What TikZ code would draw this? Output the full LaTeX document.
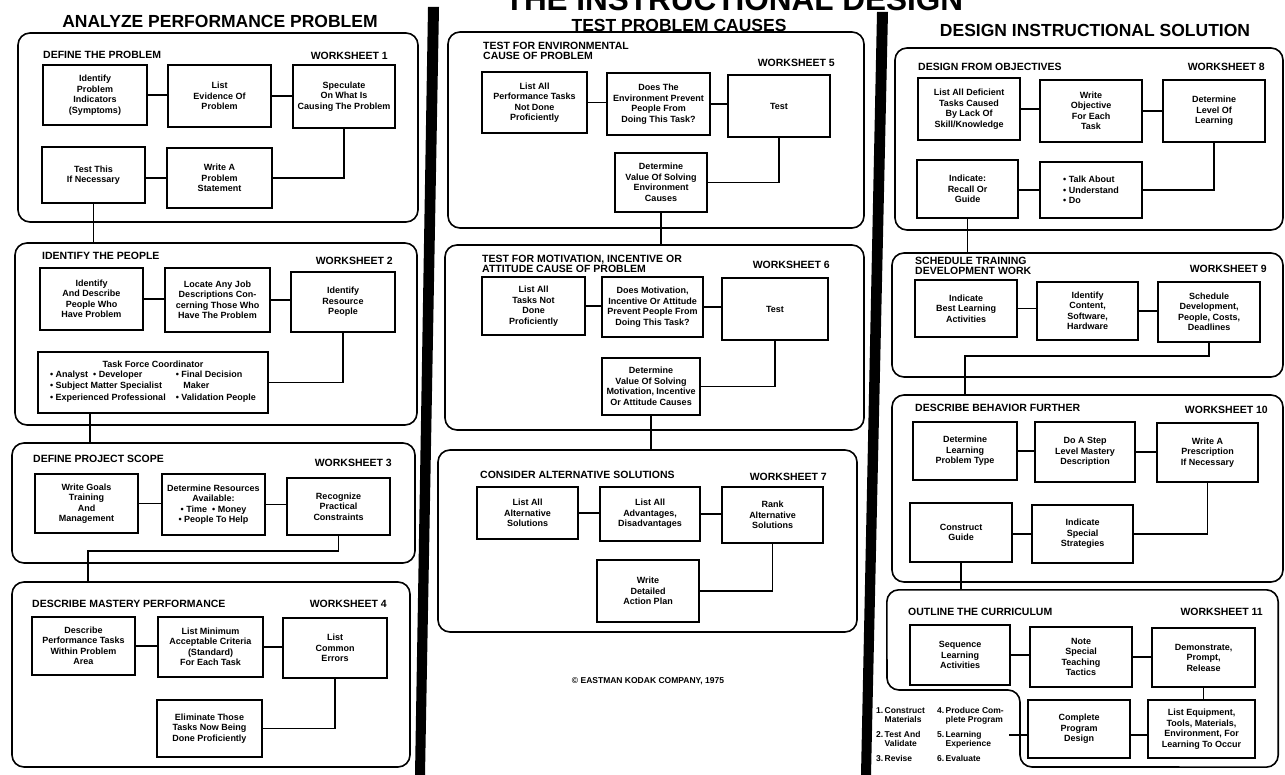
\documentclass[tikz,border=0pt]{standalone}
\usepackage{fontspec}
\setmainfont{Liberation Sans}
\usetikzlibrary{calc}

\newcommand{\stepfont}{\bfseries\fontsize{9}{10.5}\selectfont}

\tikzset{
  panel/.style={draw, line width=1.6pt, rounded corners=12pt, inner sep=0pt},
  stepbox/.style={draw, line width=1.8pt, align=center, inner sep=1pt, font=\stepfont},
  link/.style={line width=1.6pt},
  sectitle/.style={anchor=west, inner sep=0pt, align=left,
    font=\bfseries\fontsize{10.5}{10.5}\selectfont},
  sectitletwo/.style={anchor=north west, inner sep=0pt, align=left,
    font=\bfseries\fontsize{10.5}{10}\selectfont},
  sheet/.style={anchor=east, inner sep=0pt, font=\bfseries\fontsize{10.5}{11}\selectfont},
  colhead/.style={inner sep=0pt, font=\bfseries\fontsize{17.5}{18}\selectfont},
  divider/.style={fill=black},
  steplist/.style={anchor=north west, inner sep=0pt, font=\bfseries\fontsize{8.5}{9}\selectfont},
}

\begin{document}
\begin{tikzpicture}[x=1pt,y=-1pt]
\useasboundingbox (0,0) rectangle (1285,775);

% main title, running off the top edge of the sheet
\begin{scope}
  \clip (0,0) rectangle (1285,775);
  \node[anchor=base, inner sep=0pt, font=\bfseries\fontsize{31.5}{32}\selectfont] (title) at (734,11) {THE INSTRUCTIONAL DESIGN};
\end{scope}

% column dividers
\fill[divider] (428,7) -- (439,7) -- (425,775) -- (415,775) -- cycle;
\fill[divider] (877,12) -- (888,12) -- (871,775) -- (861,775) -- cycle;

% column headings
\node[colhead] (head1) at (220,21) {ANALYZE PERFORMANCE PROBLEM};
\node[colhead] (head2) at (679,25) {TEST PROBLEM CAUSES};
\node[colhead] (head3) at (1095,30) {DESIGN INSTRUCTIONAL SOLUTION};

% ---------------- column 1 ----------------
\node[panel, minimum width=400, minimum height=189] (P1) at (218,127.5) {};
\node[sectitle] (t1) at (43,55) {DEFINE THE PROBLEM};
\node[sheet] (w1) at (388,56) {WORKSHEET 1};
\node[stepbox, minimum width=104, minimum height=60] (A1) at (95,95) {Identify\\Problem\\Indicators\\(Symptoms)};
\node[stepbox, minimum width=103, minimum height=62] (A2) at (219.5,96) {List\\Evidence Of\\Problem};
\node[stepbox, minimum width=102, minimum height=63] (A3) at (344,96.5) {Speculate\\On What Is\\Causing The Problem};
\node[stepbox, minimum width=103, minimum height=56] (A4) at (93.5,175) {Test This\\If Necessary};
\node[stepbox, minimum width=105, minimum height=60] (A5) at (219.5,178) {Write A\\Problem\\Statement};
\draw[link] (A1.east) -- (A1.east -| A2.west);
\draw[link] (A2.east) -- (A2.east -| A3.west);
\draw[link] (A3.south) |- (A5.east);
\draw[link] (A5.west) -- (A5.west -| A4.east);

\node[panel, minimum width=402, minimum height=182] (P2) at (216,334) {};
\draw[link] (A4.south) -- (A4.south |- P2.north);
\node[sectitle] (t2) at (42,256) {IDENTIFY THE PEOPLE};
\node[sheet] (w2) at (393,261) {WORKSHEET 2};
\node[stepbox, minimum width=103, minimum height=62] (B1) at (91.5,299) {Identify\\And Describe\\People Who\\Have Problem};
\node[stepbox, minimum width=105, minimum height=64] (B2) at (217.5,300) {Locate Any Job\\Descriptions Con-\\cerning Those Who\\Have The Problem};
\node[stepbox, minimum width=104, minimum height=60] (B3) at (343,302) {Identify\\Resource\\People};
\node[stepbox, font=\bfseries\fontsize{9}{11.5}\selectfont, minimum width=230, minimum height=61] (B4) at (153,382.5) {Task Force Coordinator\\
  \begin{tabular}{@{}l@{\hspace{10pt}}l@{}}
  • Analyst\ \ • Developer & • Final Decision\\
  • Subject Matter Specialist & \ \ \ Maker\\
  • Experienced Professional & • Validation People
  \end{tabular}};
\draw[link] (B1.east) -- (B1.east -| B2.west);
\draw[link] (B2.east) -- (B2.east -| B3.west);
\draw[link] (B3.south) |- (B4.east);

\node[panel, minimum width=403, minimum height=120] (P3) at (213.5,503) {};
\coordinate (b4s) at ([xshift=-63pt]B4.south);
\draw[link] (b4s) -- (b4s |- P3.north);
\node[sectitle] (t3) at (33,459) {DEFINE PROJECT SCOPE};
\node[sheet] (w3) at (392,463) {WORKSHEET 3};
\node[stepbox, minimum width=103, minimum height=59] (C1) at (86.5,503.5) {Write Goals\\Training\\And\\Management};
\node[stepbox, minimum width=103, minimum height=61] (C2) at (213.5,504.5) {Determine Resources\\Available:\\• Time\ \ • Money\\• People To Help};
\node[stepbox, minimum width=103, minimum height=57] (C3) at (338.5,506.5) {Recognize\\Practical\\Constraints};
\draw[link] (C1.east) -- (C1.east -| C2.west);
\draw[link] (C2.east) -- (C2.east -| C3.west);

\node[panel, minimum width=398, minimum height=185] (P4) at (211,674.5) {};
\coordinate (c4n) at ([xshift=-123pt]P4.north);
\draw[link] (C3.south) -- ++(0,15) -| (c4n);
\node[sectitle] (t4) at (32,604) {DESCRIBE MASTERY PERFORMANCE};
\node[sheet] (w4) at (387,604) {WORKSHEET 4};
\node[stepbox, minimum width=103, minimum height=58] (D1) at (83.5,646) {Describe\\Performance Tasks\\Within Problem\\Area};
\node[stepbox, minimum width=105, minimum height=60] (D2) at (210.5,647) {List Minimum\\Acceptable Criteria\\(Standard)\\For Each Task};
\node[stepbox, minimum width=104, minimum height=60] (D3) at (335,648) {List\\Common\\Errors};
\node[stepbox, minimum width=105, minimum height=57] (D4) at (209.5,728.5) {Eliminate Those\\Tasks Now Being\\Done Proficiently};
\draw[link] (D1.east) -- (D1.east -| D2.west);
\draw[link] (D2.east) -- (D2.east -| D3.west);
\draw[link] (D3.south) |- (D4.east);

% ---------------- column 2 ----------------
\node[panel, minimum width=416, minimum height=196] (P5) at (656,130) {};
\node[sectitletwo] (t5) at (483,42) {TEST FOR ENVIRONMENTAL\\CAUSE OF PROBLEM};
\node[sheet] (w5) at (835,63) {WORKSHEET 5};
\node[stepbox, minimum width=105, minimum height=61] (E1) at (534.5,102.5) {List All\\Performance Tasks\\Not Done\\Proficiently};
\node[stepbox, minimum width=103, minimum height=62] (E2) at (658.5,104) {Does The\\Environment Prevent\\People From\\Doing This Task?};
\node[stepbox, minimum width=102, minimum height=62] (E3) at (779,106) {Test};
\node[stepbox, minimum width=92, minimum height=59] (E4) at (661,182.5) {Determine\\Value Of Solving\\Environment\\Causes};
\draw[link] (E1.east) -- (E1.east -| E2.west);
\draw[link] (E2.east) -- (E2.east -| E3.west);
\draw[link] (E3.south) |- (E4.east);

\node[panel, minimum width=419, minimum height=185] (P6) at (654.5,337.5) {};
\draw[link] (E4.south) -- (E4.south |- P6.north);
\node[sectitletwo] (t6) at (482,255) {TEST FOR MOTIVATION, INCENTIVE OR\\ATTITUDE CAUSE OF PROBLEM};
\node[sheet] (w6) at (830,265) {WORKSHEET 6};
\node[stepbox, minimum width=103, minimum height=58] (F1) at (533.5,306) {List All\\Tasks Not\\Done\\Proficiently};
\node[stepbox, minimum width=101, minimum height=60] (F2) at (652.5,307) {Does Motivation,\\Incentive Or Attitude\\Prevent People From\\Doing This Task?};
\node[stepbox, minimum width=106, minimum height=62] (F3) at (775,309) {Test};
\node[stepbox, minimum width=98, minimum height=57] (F4) at (651,386.5) {Determine\\Value Of Solving\\Motivation, Incentive\\Or Attitude Causes};
\draw[link] (F1.east) -- (F1.east -| F2.west);
\draw[link] (F2.east) -- (F2.east -| F3.west);
\draw[link] (F3.south) |- (F4.east);

\node[panel, minimum width=419, minimum height=182] (P7) at (647.5,541) {};
\draw[link] (F4.south) -- (F4.south |- P7.north);
\node[sectitle] (t7) at (480,475) {CONSIDER ALTERNATIVE SOLUTIONS};
\node[sheet] (w7) at (827,477) {WORKSHEET 7};
\node[stepbox, minimum width=101, minimum height=52] (G1) at (527.5,513) {List All\\Alternative\\Solutions};
\node[stepbox, minimum width=100, minimum height=54] (G2) at (650,514) {List All\\Advantages,\\Disadvantages};
\node[stepbox, minimum width=101, minimum height=56] (G3) at (772.5,515) {Rank\\Alternative\\Solutions};
\node[stepbox, minimum width=102, minimum height=62] (G4) at (648,591) {Write\\Detailed\\Action Plan};
\draw[link] (G1.east) -- (G1.east -| G2.west);
\draw[link] (G2.east) -- (G2.east -| G3.west);
\draw[link] (G3.south) |- (G4.east);

\node[inner sep=0pt, font=\bfseries\fontsize{8.5}{10}\selectfont] (copy) at (648,681) {© EASTMAN KODAK COMPANY, 1975};

% ---------------- column 3 ----------------
\node[panel, minimum width=388, minimum height=182] (P8) at (1089,139) {};
\node[sectitle] (t8) at (918,67) {DESIGN FROM OBJECTIVES};
\node[sheet] (w8) at (1265,67) {WORKSHEET 8};
\node[stepbox, minimum width=102, minimum height=62] (H1) at (969,109) {List All Deficient\\Tasks Caused\\By Lack Of\\Skill/Knowledge};
\node[stepbox, minimum width=102, minimum height=62] (H2) at (1091,111) {Write\\Objective\\For Each\\Task};
\node[stepbox, minimum width=102, minimum height=62] (H3) at (1214,111) {Determine\\Level Of\\Learning};
\node[stepbox, minimum width=101, minimum height=58] (H4) at (967.5,189) {Indicate:\\Recall Or\\Guide};
\node[stepbox, align=left, minimum width=102, minimum height=56] (H5) at (1091,190) {• Talk About\\• Understand\\• Do};
\draw[link] (H1.east) -- (H1.east -| H2.west);
\draw[link] (H2.east) -- (H2.east -| H3.west);
\draw[link] (H3.south) |- (H5.east);
\draw[link] (H5.west) -- (H5.west -| H4.east);

\node[panel, minimum width=391, minimum height=124] (P9) at (1087.5,315) {};
\draw[link] (H4.south) -- (H4.south |- P9.north);
\node[sectitletwo] (t9) at (915,257) {SCHEDULE TRAINING\\DEVELOPMENT WORK};
\node[sheet] (w9) at (1267,269) {WORKSHEET 9};
\node[stepbox, minimum width=102, minimum height=57] (I1) at (966,308.5) {Indicate\\Best Learning\\Activities};
\node[stepbox, minimum width=101, minimum height=58] (I2) at (1087.5,311) {Identify\\Content,\\Software,\\Hardware};
\node[stepbox, minimum width=102, minimum height=60] (I3) at (1209,312) {Schedule\\Development,\\People, Costs,\\Deadlines};
\draw[link] (I1.east) -- (I1.east -| I2.west);
\draw[link] (I2.east) -- (I2.east -| I3.west);

\node[panel, minimum width=391, minimum height=187] (P10) at (1087.5,488.5) {};
\coordinate (i10n) at ([xshift=-122.5pt]P10.north);
\draw[link] (I3.south) -- ++(0,13) -| (i10n);
\node[sectitle] (t10) at (915,408) {DESCRIBE BEHAVIOR FURTHER};
\node[sheet] (w10) at (1268,410) {WORKSHEET 10};
\node[stepbox, minimum width=104, minimum height=58] (J1) at (965,451) {Determine\\Learning\\Problem Type};
\node[stepbox, minimum width=100, minimum height=60] (J2) at (1085,452) {Do A Step\\Level Mastery\\Description};
\node[stepbox, minimum width=101, minimum height=59] (J3) at (1207.5,452.5) {Write A\\Prescription\\If Necessary};
\node[stepbox, minimum width=102, minimum height=59] (J4) at (961,532.5) {Construct\\Guide};
\node[stepbox, minimum width=101, minimum height=58] (J5) at (1082.5,534) {Indicate\\Special\\Strategies};
\draw[link] (J1.east) -- (J1.east -| J2.west);
\draw[link] (J2.east) -- (J2.east -| J3.west);
\draw[link] (J3.south) |- (J5.east);
\draw[link] (J5.west) -- (J5.west -| J4.east);

% last panel: notched at its lower left for the production list
\node[minimum width=391, minimum height=177, inner sep=0pt] (P11) at (1082.5,678.5) {};
\draw[line width=1.6pt, rounded corners=12pt]
  (1150,767) -- (P11.south east) -- (P11.north east) -- (P11.north west)
  -- (887,690) -- (1020,690) -- (1020,767) -- cycle;
\draw[link] (J4.south) -- (J4.south |- P11.north);
\node[sectitle] (t11) at (908,612) {OUTLINE THE CURRICULUM};
\node[sheet] (w11) at (1263,612) {WORKSHEET 11};
\node[stepbox, minimum width=100, minimum height=60] (K1) at (960,655) {Sequence\\Learning\\Activities};
\node[stepbox, minimum width=102, minimum height=60] (K2) at (1081,657) {Note\\Special\\Teaching\\Tactics};
\node[stepbox, minimum width=103, minimum height=59] (K3) at (1203.5,657.5) {Demonstrate,\\Prompt,\\Release};
\node[stepbox, minimum width=107, minimum height=58] (K4) at (1201.5,729) {List Equipment,\\Tools, Materials,\\Environment, For\\Learning To Occur};
\node[stepbox, minimum width=102, minimum height=58] (K5) at (1079,729) {Complete\\Program\\Design};
\draw[link] (K1.east) -- (K1.east -| K2.west);
\draw[link] (K2.east) -- (K2.east -| K3.west);
\draw[link] (K3.south) -- (K3.south |- K4.north);
\draw[link] ([yshift=-6pt]K4.west) -- ([yshift=-6pt]K4.west -| K5.east);
\coordinate (listend) at (1009,735);
\draw[link] (K5.west |- listend) -- (listend);

% production steps listed beside the notch
\node[steplist] (stepsA) at (876,707) {%
  \begin{tabular}{@{}l@{\,}l@{}}
  1. & Construct\\
     & Materials\\[6pt]
  2. & Test And\\
     & Validate\\[6pt]
  3. & Revise
  \end{tabular}};
\node[steplist] (stepsB) at (937,707) {%
  \begin{tabular}{@{}l@{\,}l@{}}
  4. & Produce Com-\\
     & plete Program\\[6pt]
  5. & Learning\\
     & Experience\\[6pt]
  6. & Evaluate
  \end{tabular}};

\end{tikzpicture}
\end{document}
